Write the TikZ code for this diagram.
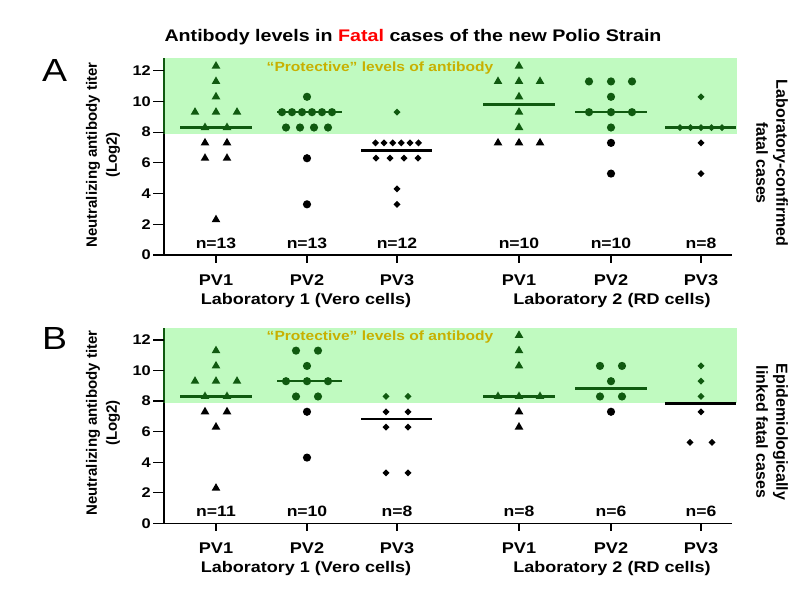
\documentclass[tikz,border=0pt]{standalone}
\usepackage{fontspec}
\setmainfont{Liberation Sans}
\newfontfamily\widesf[FakeStretch=1.17]{Liberation Sans}
\usetikzlibrary{shapes.geometric}
\definecolor{bandgreen}{HTML}{C0FAC0}
\definecolor{dkgreen}{HTML}{105A10}
\definecolor{olivetext}{HTML}{C8B000}
\newcommand\fsz[2]{\fontsize{#1}{#2}\selectfont}
\tikzset{
  mk/.style={inner sep=0pt, outer sep=0pt, draw=none},
  triG/.style={mk, regular polygon, regular polygon sides=3, minimum size=10pt, fill=dkgreen},
  triK/.style={mk, regular polygon, regular polygon sides=3, minimum size=10pt, fill=black},
  cirG/.style={mk, circle, minimum size=8.2pt, fill=dkgreen},
  cirK/.style={mk, circle, minimum size=8.2pt, fill=black},
  diaG/.style={mk, diamond, minimum size=7pt, fill=dkgreen},
  diaK/.style={mk, diamond, minimum size=7pt, fill=black},
  medG/.style={line width=2.4pt, draw=dkgreen},
  medK/.style={line width=2.4pt, draw=black},
  axline/.style={line width=1.6pt},
  tickline/.style={line width=1.2pt},
  ticklab/.style={anchor=east, inner sep=0pt, font=\widesf\bfseries\fsz{14}{16}},
  nlab/.style={anchor=base, inner sep=0pt, font=\widesf\bfseries\fsz{15}{18}},
  pvlab/.style={anchor=base, inner sep=0pt, font=\widesf\bfseries\fsz{15.5}{18}},
  lablab/.style={anchor=base, inner sep=0pt, font=\widesf\bfseries\fsz{15.4}{18}},
  protlab/.style={inner sep=0pt, text=olivetext, font=\widesf\bfseries\fsz{13.3}{16}},
  ylab/.style={rotate=90, align=center, inner sep=0pt, font=\bfseries\fsz{15}{20}},
  rlab/.style={rotate=-90, align=center, inner sep=0pt, font=\bfseries\fsz{16}{20}},
  panlab/.style={inner sep=0pt, font=\widesf\fsz{32}{34}},
}
\newcommand\panelframe[1]{%
  \fill[bandgreen] (164,7.85) rectangle (737,12.8);
  \draw[axline] (164,0) -- (164,7.85);
  \draw[axline, dkgreen] (164,7.85) -- (164,12.8);
  \draw[axline] (153,0) -- (732,0);
  \foreach \v in {0,2,...,12} {
    \draw[tickline] (164,\v) -- ++(-11pt,0pt);
    \node[ticklab] (#1t\v) at ([xshift=-13pt]164,\v) {\v};
  }
  \foreach \x [count=\i] in {216,307,397,519,611,701}
    \draw[axline] (\x,0) -- ++(0pt,-8pt);
  \foreach \x/\t [count=\i] in {216/PV1,307/PV2,397/PV3,519/PV1,611/PV2,701/PV3}
    \node[pvlab] (#1pv\i) at ([yshift=-30pt]\x,0) {\t};
  \node[lablab] (#1labA) at ([yshift=-49pt]306,0) {Laboratory 1 (Vero cells)};
  \node[lablab] (#1labB) at ([yshift=-49pt]612,0) {Laboratory 2 (RD cells)};
  \node[protlab] (#1prot) at ([yshift=-9.5pt]380,12.8) {“Protective” levels of antibody};
}
\begin{document}
\begin{tikzpicture}[x=1pt,y=-1pt]
\useasboundingbox (0,0) rectangle (800,600);
\fill[white] (0,0) rectangle (800,600);

\node[anchor=base, inner sep=0pt, font=\widesf\bfseries\fsz{16.8}{20}] (title) at (413,41.7)
  {Antibody levels in {\color{red}Fatal} cases of the new Polio Strain};

\node[panlab] (pA) at (54.5,70) {A};
\node[panlab] (pB) at (54.5,338.5) {B};

\node[ylab] (yA) at (103,155) {Neutralizing antibody titer\\(Log2)};
\node[ylab] (yB) at (103,423) {Neutralizing antibody titer\\(Log2)};
\node[rlab] (rA) at (772,163) {Laboratory-confirmed\\fatal cases};
\node[rlab] (rB) at (772,432) {Epidemiologically\\linked fatal cases};

% ---------------- Panel A ----------------
\begin{scope}[shift={(0,255)}, y=15.36pt]
  \panelframe{a}
  \foreach \x/\t [count=\i] in {216/13,307/13,397/12,519/10,611/10,701/8}
    \node[nlab] (an\i) at ([yshift=6.7pt]\x,0) {n=\t};
  % medians
  \draw[medG] (180,8.3) -- (252,8.3);
  \draw[medG] (277,9.3) -- (342,9.3);
  \draw[medK] (361,6.8) -- (432,6.8);
  \draw[medG] (483,9.8) -- (555,9.8);
  \draw[medG] (575,9.3) -- (647,9.3);
  \draw[medG] (665,8.3) -- (736,8.3);
  % markers
  \foreach \x/\v [count=\i] in {216/12.3,216/11.3,216/10.3,195/9.3,216/9.3,237/9.3,205/8.3,227/8.3,
      519/12.3,498/11.3,519/11.3,540/11.3,519/10.3,519/9.3,519/8.3}
    \node[triG] (atg\i) at (\x,\v) {};
  \foreach \x/\v [count=\i] in {205/7.3,227/7.3,205/6.3,227/6.3,216/2.3,498/7.3,519/7.3,540/7.3}
    \node[triK] (atk\i) at (\x,\v) {};
  \foreach \x/\v [count=\i] in {307/10.3,282/9.3,292/9.3,302/9.3,312/9.3,322/9.3,332/9.3,
      286/8.3,300/8.3,314/8.3,328/8.3,589/11.3,611/11.3,632/11.3,611/10.3,589/9.3,611/9.3,632/9.3,611/8.3}
    \node[cirG] (acg\i) at (\x,\v) {};
  \foreach \x/\v [count=\i] in {307/6.3,307/3.3,611/7.3,611/5.3}
    \node[cirK] (ack\i) at (\x,\v) {};
  \foreach \x/\v [count=\i] in {397/9.3,701/10.3,680/8.3,690.5/8.3,701/8.3,711.5/8.3,722/8.3}
    \node[diaG] (adg\i) at (\x,\v) {};
  \foreach \x/\v [count=\i] in {375.5/7.3,384/7.3,392.7/7.3,401.3/7.3,410/7.3,418.5/7.3,
      376/6.3,390/6.3,404/6.3,418/6.3,397/4.3,397/3.3,701/7.3,701/5.3}
    \node[diaK] (adk\i) at (\x,\v) {};
\end{scope}

% ---------------- Panel B ----------------
\begin{scope}[shift={(0,523.3)}, y=15.28pt]
  \panelframe{b}
  \foreach \x/\t [count=\i] in {216/11,307/10,397/8,519/8,611/6,701/6}
    \node[nlab] (bn\i) at ([yshift=6.7pt]\x,0) {n=\t};
  \draw[medG] (180,8.3) -- (252,8.3);
  \draw[medG] (277,9.3) -- (342,9.3);
  \draw[medK] (361,6.83) -- (432,6.83);
  \draw[medG] (483,8.3) -- (555,8.3);
  \draw[medG] (575,8.83) -- (647,8.83);
  \draw[medK] (665,7.85) -- (736,7.85);
  \foreach \x/\v [count=\i] in {216/11.3,216/10.3,195/9.3,216/9.3,237/9.3,205/8.3,227/8.3,
      519/12.3,519/11.3,519/10.3,498/8.3,519/8.3,540/8.3}
    \node[triG] (btg\i) at (\x,\v) {};
  \foreach \x/\v [count=\i] in {205/7.3,227/7.3,216/6.3,216/2.3,519/7.3,519/6.3}
    \node[triK] (btk\i) at (\x,\v) {};
  \foreach \x/\v [count=\i] in {296/11.3,318/11.3,307/10.3,286/9.3,307/9.3,328/9.3,296/8.3,318/8.3,
      600/10.3,622/10.3,611/9.3,600/8.3,622/8.3}
    \node[cirG] (bcg\i) at (\x,\v) {};
  \foreach \x/\v [count=\i] in {307/7.3,307/4.3,611/7.3}
    \node[cirK] (bck\i) at (\x,\v) {};
  \foreach \x/\v [count=\i] in {386/8.3,408/8.3,701/10.3,701/9.3,701/8.3}
    \node[diaG] (bdg\i) at (\x,\v) {};
  \foreach \x/\v [count=\i] in {386/7.3,408/7.3,386/6.3,408/6.3,386/3.3,408/3.3,701/7.3,690/5.3,712/5.3}
    \node[diaK] (bdk\i) at (\x,\v) {};
\end{scope}
\end{tikzpicture}
\end{document}
